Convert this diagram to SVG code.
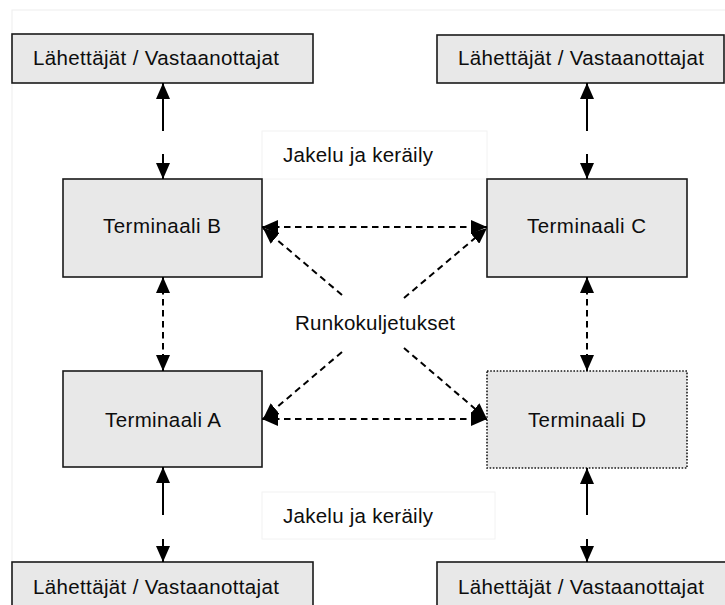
<svg xmlns="http://www.w3.org/2000/svg" width="725" height="605" viewBox="0 0 725 605">
  <defs>
    <marker id="head" markerUnits="userSpaceOnUse" markerWidth="16" markerHeight="14" viewBox="0 0 16 14" refX="16" refY="7" orient="auto-start-reverse">
      <path d="M0,0 L16,7 L0,14 Z" fill="#000"/>
    </marker>
  </defs>
  <style>
    .box { fill: #e8e8e8; stroke: #1a1a1a; stroke-width: 1.6; }
    .dotted { fill: #e8e8e8; stroke: #1a1a1a; stroke-width: 1.6; stroke-dasharray: 1.6 1.6; }
    .label { fill: #fff; stroke: #f2f2f2; stroke-width: 1; }
    .frame { fill: none; stroke: #f0f0f0; stroke-width: 1.2; }
    text { font-family: "Liberation Sans", Arial, sans-serif; font-size: 20.5px; fill: #0d0d0d; }
    .solid { stroke: #000; stroke-width: 2; fill: none; }
    .dash { stroke: #000; stroke-width: 2; fill: none; stroke-dasharray: 6.5 4.5; }
  </style>

  <rect width="725" height="605" fill="#fff"/>
  <rect class="frame" x="12" y="10" width="725" height="610"/>

  <!-- senders / receivers -->
  <g id="senders-top-left">
    <rect class="box" x="12" y="34" width="301" height="49"/>
    <text x="33" y="65" textLength="246" lengthAdjust="spacing">Lähettäjät / Vastaanottajat</text>
  </g>
  <g id="senders-top-right">
    <rect class="box" x="437" y="35" width="287" height="48"/>
    <text x="458" y="65" textLength="246" lengthAdjust="spacing">Lähettäjät / Vastaanottajat</text>
  </g>
  <g id="senders-bottom-left">
    <rect class="box" x="12" y="562" width="301" height="60"/>
    <text x="33" y="594" textLength="246" lengthAdjust="spacing">Lähettäjät / Vastaanottajat</text>
  </g>
  <g id="senders-bottom-right">
    <rect class="box" x="437" y="562" width="310" height="60"/>
    <text x="458" y="594" textLength="246" lengthAdjust="spacing">Lähettäjät / Vastaanottajat</text>
  </g>

  <!-- distribution labels -->
  <g id="jakelu-top">
    <rect class="label" x="262" y="131" width="225" height="48"/>
    <text x="283" y="162" textLength="150" lengthAdjust="spacing">Jakelu ja keräily</text>
  </g>
  <g id="jakelu-bottom">
    <rect class="label" x="262" y="492" width="233" height="47"/>
    <text x="283" y="523" textLength="150" lengthAdjust="spacing">Jakelu ja keräily</text>
  </g>

  <!-- terminals -->
  <g id="terminal-b">
    <rect class="box" x="63" y="179" width="199" height="98"/>
    <text x="103" y="233" textLength="118" lengthAdjust="spacing">Terminaali B</text>
  </g>
  <g id="terminal-c">
    <rect class="box" x="487" y="179" width="200" height="98"/>
    <text x="527" y="233" textLength="119" lengthAdjust="spacing">Terminaali C</text>
  </g>
  <g id="terminal-a">
    <rect class="box" x="63" y="371" width="199" height="96"/>
    <text x="105" y="427" textLength="116" lengthAdjust="spacing">Terminaali A</text>
  </g>
  <g id="terminal-d">
    <rect class="dotted" x="487" y="371" width="200" height="97"/>
    <text x="528" y="427" textLength="118" lengthAdjust="spacing">Terminaali D</text>
  </g>

  <g id="runko">
    <text x="295" y="330" textLength="160" lengthAdjust="spacing">Runkokuljetukset</text>
  </g>

  <!-- connectors -->
  <g id="connectors">
    <!-- local delivery links -->
    <line class="solid" x1="163" y1="131" x2="163" y2="83" marker-end="url(#head)"/>
    <line class="solid" x1="163" y1="154" x2="163" y2="179" marker-end="url(#head)"/>
    <line class="solid" x1="587" y1="131" x2="587" y2="83" marker-end="url(#head)"/>
    <line class="solid" x1="587" y1="154" x2="587" y2="179" marker-end="url(#head)"/>
    <line class="solid" x1="163" y1="515" x2="163" y2="467" marker-end="url(#head)"/>
    <line class="solid" x1="163" y1="539" x2="163" y2="562" marker-end="url(#head)"/>
    <line class="solid" x1="587" y1="515" x2="587" y2="468" marker-end="url(#head)"/>
    <line class="solid" x1="587" y1="539" x2="587" y2="562" marker-end="url(#head)"/>

    <!-- trunk transport between terminals -->
    <line class="dash" x1="163" y1="277" x2="163" y2="371" marker-start="url(#head)" marker-end="url(#head)"/>
    <line class="dash" x1="587" y1="277" x2="587" y2="371" marker-start="url(#head)" marker-end="url(#head)"/>
    <line class="dash" x1="262" y1="227" x2="487" y2="227" marker-start="url(#head)" marker-end="url(#head)"/>
    <line class="dash" x1="262" y1="419" x2="487" y2="419" marker-start="url(#head)" marker-end="url(#head)"/>

    <!-- diagonal trunk links, interrupted by the label -->
    <line class="dash" x1="342" y1="295" x2="263" y2="228" marker-end="url(#head)"/>
    <line class="dash" x1="404" y1="298" x2="487" y2="228" marker-end="url(#head)"/>
    <line class="dash" x1="342" y1="352" x2="263" y2="419" marker-end="url(#head)"/>
    <line class="dash" x1="404" y1="348" x2="487" y2="419" marker-end="url(#head)"/>
  </g>
</svg>
